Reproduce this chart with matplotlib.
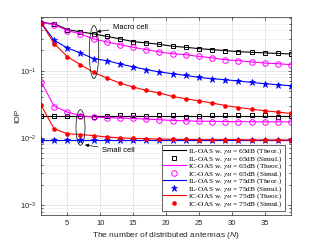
import matplotlib
matplotlib.use("Agg")
import matplotlib.pyplot as plt
from matplotlib.patches import Ellipse
from matplotlib.font_manager import FontProperties
import numpy as np

plt.rcParams['mathtext.fontset'] = 'custom'
plt.rcParams['mathtext.rm'] = 'Liberation Sans'
plt.rcParams['mathtext.it'] = 'Liberation Sans:italic'
plt.rcParams['font.family'] = ['Liberation Sans', 'DejaVu Sans']

N = [1, 3, 5, 7, 9, 11, 13, 15, 17, 19, 21, 23, 25, 27, 29, 31, 33, 35, 37, 39]

# Macro cell
il65_macro = [0.52, 0.50, 0.41, 0.378, 0.353, 0.325, 0.297, 0.271, 0.259, 0.247,
              0.231, 0.223, 0.213, 0.206, 0.199, 0.192, 0.188, 0.184, 0.181, 0.177]
ic65_macro = [0.52, 0.486, 0.395, 0.353, 0.297, 0.268, 0.244, 0.223, 0.206, 0.190,
              0.179, 0.173, 0.163, 0.155, 0.146, 0.141, 0.135, 0.130, 0.127, 0.123]
il75_macro = [0.52, 0.283, 0.218, 0.184, 0.151, 0.141, 0.126, 0.114, 0.104, 0.0957,
              0.0902, 0.0851, 0.0794, 0.076, 0.0734, 0.0702, 0.0669, 0.064, 0.0618, 0.0597]
ic75_macro = [0.52, 0.253, 0.162, 0.123, 0.0944, 0.0778, 0.0655, 0.0571, 0.0508, 0.0465,
              0.0413, 0.0382, 0.0356, 0.033, 0.0303, 0.0283, 0.0268, 0.0253, 0.0242, 0.0231]

# Small cell
il65_small_theor = [0.0211] * 20
il65_small_simul = [0.0208, 0.0211, 0.0211, 0.0211, 0.0206, 0.0211, 0.0216, 0.0218, 0.0211, 0.0216,
                    0.0216, 0.0206, 0.0208, 0.0216, 0.0218, 0.0218, 0.0216, 0.0216, 0.0206, 0.0211]
ic65_small_theor = [0.069, 0.0295, 0.0242, 0.0213, 0.0204, 0.0200, 0.0197, 0.0194, 0.0190, 0.0186,
                    0.0182, 0.0179, 0.0177, 0.0176, 0.0175, 0.0174, 0.0174, 0.0173, 0.0173, 0.0173]
ic65_small_simul = [0.069, 0.029, 0.0242, 0.0211, 0.0204, 0.0199, 0.0199, 0.0199, 0.0193, 0.0187,
                    0.0180, 0.0176, 0.0176, 0.0175, 0.0175, 0.0174, 0.0174, 0.0174, 0.0175, 0.0175]
il75_small = [0.0092] * 20
ic75_small = [0.0308, 0.0136, 0.0115, 0.0112, 0.0108, 0.0103, 0.0100, 0.0098, 0.0097, 0.0096,
              0.0095, 0.0095, 0.0094, 0.0094, 0.0094, 0.0094, 0.0093, 0.0093, 0.0093, 0.0093]

labels = [r'IL-OAS w. $\gamma_M$ = 65dB (Theor.)', r'IL-OAS w. $\gamma_M$ = 65dB (Simul.)',
          r'IC-OAS w. $\gamma_M$ = 65dB (Theor.)', r'IC-OAS w. $\gamma_M$ = 65dB (Simul.)',
          r'IL-OAS w. $\gamma_M$ = 75dB (Theor.)', r'IL-OAS w. $\gamma_M$ = 75dB (Simul.)',
          r'IC-OAS w. $\gamma_M$ = 75dB (Theor.)', r'IC-OAS w. $\gamma_M$ = 75dB (Simul.)']
xticks = [5, 10, 15, 20, 25, 30, 35]

fig = plt.figure(figsize=(3.21, 2.41), dpi=100)
ax = fig.add_axes([41/321, 1-215/241, 250/321, 198/241])

lw = 0.8
magenta = '#ff00ff'
blue = '#0000ff'
red = '#ff0000'

series = [
    (il65_macro, il65_small_theor, il65_macro, il65_small_simul, 'k',
     dict(marker='s', mfc='none', ms=3.4, mew=0.7)),
    (ic65_macro, ic65_small_theor, ic65_macro, ic65_small_simul, magenta,
     dict(marker='o', mfc='none', ms=4.0, mew=0.7)),
    (il75_macro, il75_small, il75_macro, il75_small, blue,
     dict(marker='*', ms=4.8, mew=0.5)),
    (ic75_macro, ic75_small, ic75_macro, ic75_small, red,
     dict(marker='o', ms=3.0, mew=0.3)),
]
handles = []
for th_m, th_s, si_m, si_s, c, mk in series:
    h1, = ax.plot(N, th_m, color=c, lw=lw)
    ax.plot(N, th_s, color=c, lw=lw)
    h2, = ax.plot(N, si_m, ls='none', color=c, mec=c, **mk)
    ax.plot(N, si_s, ls='none', color=c, mec=c, **mk)
    handles += [h1, h2]

ax.set_yscale('log')
ax.set_xlim(1, 39)
ax.set_ylim(7.1e-4, 0.63)
ax.set_xticks(xticks)
ax.grid(True, which='major', color='#dcdcdc', lw=0.5)
ax.grid(True, which='minor', axis='y', color='#dcdcdc', lw=0.5, ls=(0, (1.5, 1.5)))
ax.tick_params(which='both', direction='in', top=True, right=True, colors='#262626',
               labelsize=5.5, width=0.5)
ax.tick_params(which='major', length=2.5)
ax.tick_params(which='minor', length=1.5)
for s in ax.spines.values():
    s.set_color('#262626')
    s.set_linewidth(0.5)
ax.set_axisbelow(True)

ax.set_xlabel('The number of distributed antennas ($N$)', fontsize=6, labelpad=2, color='#262626')
ax.set_ylabel('IOP', fontsize=6, color='#262626')
ax.yaxis.set_label_coords(-0.078, 0.5)

# annotations
ax.add_patch(Ellipse((0.212, 0.823), 0.038, 0.268, transform=ax.transAxes,
                     fill=False, ec='k', lw=0.5, zorder=5))
ax.add_patch(Ellipse((0.158, 0.442), 0.036, 0.18, transform=ax.transAxes,
                     fill=False, ec='k', lw=0.5, zorder=5))
ax.annotate('Macro cell', xy=(0.223, 0.926), xytext=(0.288, 0.949),
            xycoords='axes fraction', textcoords='axes fraction', fontsize=5.5,
            va='center', ha='left',
            arrowprops=dict(arrowstyle='-|>', color='k', lw=0.5, mutation_scale=5,
                            shrinkA=1, shrinkB=0))
ax.annotate('Small cell', xy=(0.176, 0.354), xytext=(0.244, 0.328),
            xycoords='axes fraction', textcoords='axes fraction', fontsize=5.5,
            va='center', ha='left',
            arrowprops=dict(arrowstyle='-|>', color='k', lw=0.5, mutation_scale=5,
                            shrinkA=1, shrinkB=0))

fp = FontProperties(family='Liberation Serif', size=5.3, math_fontfamily='stix')
leg = ax.legend(handles, labels, loc='lower right', bbox_to_anchor=(0.976, 0.022),
                borderaxespad=0, prop=fp, fancybox=False, framealpha=1,
                edgecolor='#262626', handlelength=3.0, handletextpad=0.4,
                labelspacing=-0.3, borderpad=0.25)
leg.get_frame().set_linewidth(0.5)

fig.savefig('out.png', dpi=100)
